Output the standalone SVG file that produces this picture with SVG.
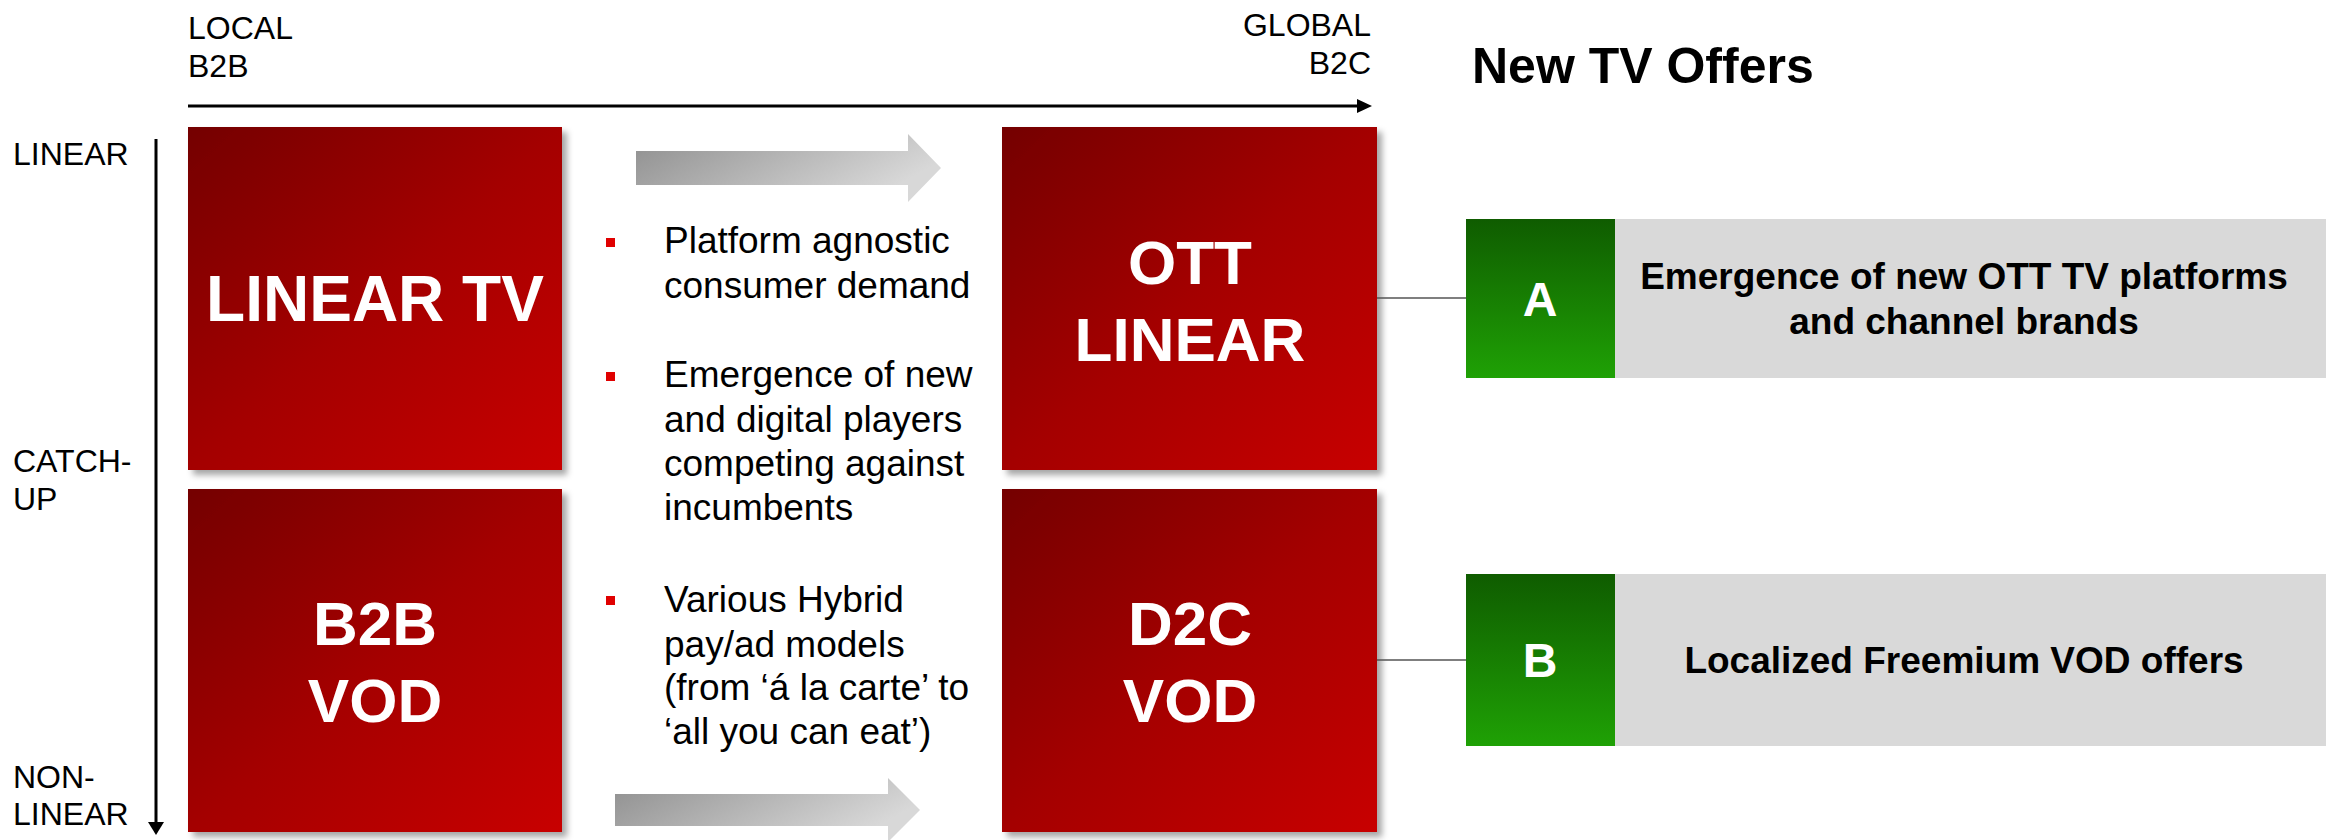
<svg xmlns="http://www.w3.org/2000/svg" width="2337" height="840" viewBox="0 0 2337 840">
<defs>
<linearGradient id="red" x1="0" y1="0" x2="1" y2="1">
<stop offset="0" stop-color="#740000"/>
<stop offset="0.5" stop-color="#a40000"/>
<stop offset="1" stop-color="#c80000"/>
</linearGradient>
<linearGradient id="green" x1="0" y1="0" x2="0" y2="1">
<stop offset="0" stop-color="#0f5c00"/>
<stop offset="1" stop-color="#1fa105"/>
</linearGradient>
<linearGradient id="grey" x1="0" y1="0" x2="1" y2="0.4">
<stop offset="0" stop-color="#8e8e8e"/>
<stop offset="1" stop-color="#d8d8d8"/>
</linearGradient>
<filter id="sh" x="-10%" y="-10%" width="125%" height="125%">
<feDropShadow dx="5" dy="5" stdDeviation="3" flood-color="#000" flood-opacity="0.35"/>
</filter>
<style>
text{font-family:"Liberation Sans",Arial,sans-serif}
.ax{font-size:32px;fill:#000}
.big{font-size:62px;font-weight:bold;fill:#fff;text-anchor:middle}
.bl{font-size:37px;fill:#000}
.bul{fill:#e00000}
.let{font-size:48px;font-weight:bold;fill:#fff;text-anchor:middle}
.desc{font-size:37px;font-weight:bold;fill:#000;text-anchor:middle}
.conn{stroke:#555;stroke-width:1.5;fill:none}
</style>
</defs>

<g id="axes">
<text class="ax" x="188" y="39">LOCAL</text>
<text class="ax" x="188" y="77">B2B</text>
<text class="ax" x="1371" y="36" text-anchor="end">GLOBAL</text>
<text class="ax" x="1371" y="74" text-anchor="end">B2C</text>
<line x1="188" y1="106" x2="1358" y2="106" stroke="#000" stroke-width="3"/>
<polygon points="1357,99 1372,106 1357,113" fill="#000"/>
<text class="ax" x="13" y="165">LINEAR</text>
<text class="ax" x="13" y="472">CATCH-</text>
<text class="ax" x="13" y="510">UP</text>
<text class="ax" x="13" y="788">NON-</text>
<text class="ax" x="13" y="825">LINEAR</text>
<line x1="156" y1="139" x2="156" y2="823" stroke="#000" stroke-width="3"/>
<polygon points="148,822 164,822 156,835" fill="#000"/>
</g>

<g id="title">
<text x="1472" y="83" font-size="50" font-weight="bold" fill="#000">New TV Offers</text>
</g>

<g id="linear-tv">
<rect x="188" y="127" width="374" height="343" fill="url(#red)" filter="url(#sh)"/>
<text class="big" x="375" y="321" style="font-size:64px">LINEAR TV</text>
</g>
<g id="b2b-vod">
<rect x="188" y="489" width="374" height="343" fill="url(#red)" filter="url(#sh)"/>
<text class="big" x="375" y="645">B2B</text>
<text class="big" x="375" y="722">VOD</text>
</g>
<g id="ott-linear">
<rect x="1002" y="127" width="375" height="343" fill="url(#red)" filter="url(#sh)"/>
<text class="big" x="1190" y="284">OTT</text>
<text class="big" x="1190" y="361">LINEAR</text>
</g>
<g id="d2c-vod">
<rect x="1002" y="489" width="375" height="343" fill="url(#red)" filter="url(#sh)"/>
<text class="big" x="1190" y="645">D2C</text>
<text class="big" x="1190" y="722">VOD</text>
</g>

<g id="arrows">
<polygon points="636,151 908,151 908,134 941,168 908,202 908,185 636,185" fill="url(#grey)"/>
<polygon points="615,794 888,794 888,778 920,810 888,842 888,826 615,826" fill="url(#grey)"/>
</g>

<g id="bullets">
<rect class="bul" x="606" y="238" width="9" height="9"/>
<text class="bl" x="664" y="253">Platform agnostic</text>
<text class="bl" x="664" y="298">consumer demand</text>
<rect class="bul" x="606" y="372" width="9" height="9"/>
<text class="bl" x="664" y="387">Emergence of new</text>
<text class="bl" x="664" y="432">and digital players</text>
<text class="bl" x="664" y="476">competing against</text>
<text class="bl" x="664" y="520">incumbents</text>
<rect class="bul" x="606" y="596" width="9" height="9"/>
<text class="bl" x="664" y="612">Various Hybrid</text>
<text class="bl" x="664" y="657">pay/ad models</text>
<text class="bl" x="664" y="700">(from ‘á la carte’ to</text>
<text class="bl" x="664" y="744">‘all you can eat’)</text>
</g>

<g id="connectors">
<line class="conn" x1="1377" y1="298" x2="1466" y2="298"/>
<line class="conn" x1="1377" y1="660" x2="1466" y2="660"/>
</g>

<g id="offer-a">
<rect x="1615" y="219" width="711" height="159" fill="#d9d9d9"/>
<rect x="1466" y="219" width="149" height="159" fill="url(#green)"/>
<text class="let" x="1540" y="316">A</text>
<text class="desc" x="1964" y="289">Emergence of new OTT TV platforms</text>
<text class="desc" x="1964" y="334">and channel brands</text>
</g>
<g id="offer-b">
<rect x="1615" y="574" width="711" height="172" fill="#d9d9d9"/>
<rect x="1466" y="574" width="149" height="172" fill="url(#green)"/>
<text class="let" x="1540" y="677">B</text>
<text class="desc" x="1964" y="673">Localized Freemium VOD offers</text>
</g>
</svg>
